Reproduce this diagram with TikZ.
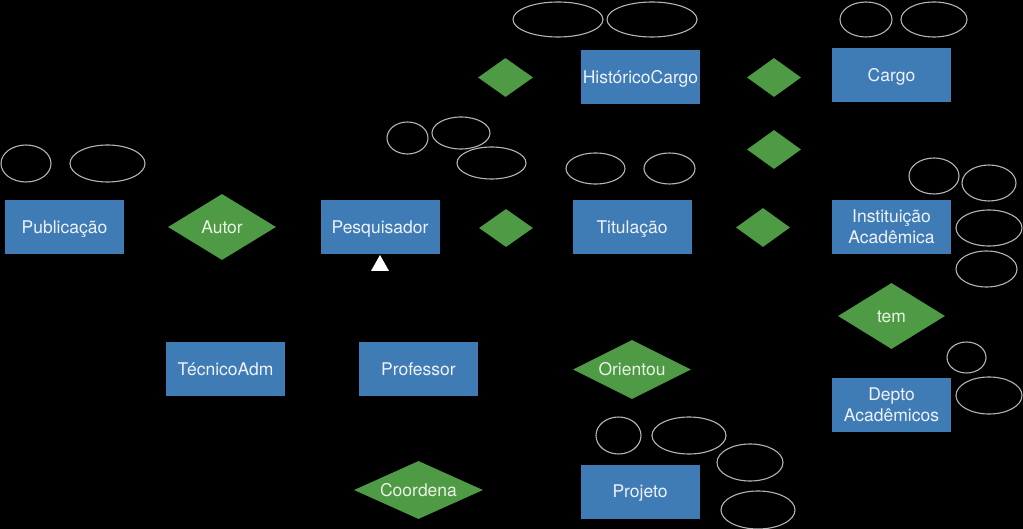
\documentclass[tikz,border=0pt]{standalone}
\usepackage{fontspec}
\setmainfont{TeX Gyre Heros}
\usetikzlibrary{shapes.geometric}
\definecolor{entblue}{HTML}{3F7CB6}
\definecolor{relgreen}{HTML}{4E9A45}
\definecolor{attgray}{HTML}{B4B4B4}
\definecolor{txtwhite}{HTML}{EEF2F8}
\definecolor{txtgreen}{HTML}{E8F4E2}
\tikzset{
  entitybase/.style={rectangle, fill=entblue, draw=none, minimum width=119pt, minimum height=54pt, inner sep=0pt,
    text=txtwhite, align=center, font=\fontsize{17.5}{21}\selectfont},
  entity/.style={entitybase, text height=12.5pt, text depth=0pt},
  entitytwo/.style={entitybase},
  rel/.style={diamond, shape aspect=2, fill=relgreen, draw=none, inner sep=0pt,
    text=txtgreen, text height=12.5pt, text depth=0pt, font=\fontsize{17.5}{21}\selectfont},
  attr/.style={ellipse, draw=attgray, line width=1.1pt, fill=none, inner sep=0pt},
  isa/.style={fill=white, draw=none}
}
\begin{document}
\begin{tikzpicture}[x=1pt,y=-1pt]
\fill[black] (0,0) rectangle (1023,529);
\useasboundingbox (0,0) rectangle (1023,529);

% entities
\node[entity] (pub) at (64.5,227) {Publicação};
\node[entity] (pesq) at (380,227) {Pesquisador};
\node[entity] (tit) at (632,227) {Titulação};
\node[entity] (hist) at (640.5,77) {HistóricoCargo};
\node[entity] (cargo) at (891.5,75) {Cargo};
\node[entitytwo] (inst) at (891.5,227) {Instituição\\Acadêmica};
\node[entitytwo] (depto) at (891.5,405) {Depto\\Acadêmicos};
\node[entity] (tec) at (225.5,369) {TécnicoAdm};
\node[entity] (prof) at (418.5,369) {Professor};
\node[entity] (proj) at (640,491.5) {Projeto};

% relationships
\node[rel, minimum width=108pt, minimum height=66pt] (autor) at (222,227) {Autor};
\node[rel, minimum width=54pt, minimum height=38pt] (rpt) at (506,228) {};
\node[rel, minimum width=55pt, minimum height=39pt] (rph) at (505.5,77.5) {};
\node[rel, minimum width=54pt, minimum height=39pt] (rhc) at (774,77.5) {};
\node[rel, minimum width=54pt, minimum height=39pt] (rmid) at (774,149.5) {};
\node[rel, minimum width=54pt, minimum height=39pt] (rti) at (763,227.5) {};
\node[rel, minimum width=107pt, minimum height=66pt] (tem) at (891.5,316) {tem};
\node[rel, minimum width=118pt, minimum height=59pt] (orient) at (632,369.5) {Orientou};
\node[rel, minimum width=129pt, minimum height=58pt] (coord) at (418.5,490) {Coordena};

% generalization triangle
\coordinate (triA) at (380,255);
\coordinate (triB) at (389,271);
\coordinate (triC) at (371,271);
\fill[isa] (triA) -- (triB) -- (triC) -- cycle;

% attributes
\node[attr, minimum width=50pt, minimum height=37pt] (a1) at (26,163.5) {};
\node[attr, minimum width=75pt, minimum height=37pt] (a2) at (107.5,163.5) {};
\node[attr, minimum width=41pt, minimum height=32pt] (a3) at (407.5,138) {};
\node[attr, minimum width=58pt, minimum height=32pt] (a4) at (461,133) {};
\node[attr, minimum width=69pt, minimum height=32pt] (a5) at (491.5,163) {};
\node[attr, minimum width=90pt, minimum height=35pt] (a6) at (558,19.5) {};
\node[attr, minimum width=90pt, minimum height=35pt] (a7) at (652,19.5) {};
\node[attr, minimum width=52pt, minimum height=35pt] (a8) at (866,19.5) {};
\node[attr, minimum width=66pt, minimum height=35pt] (a9) at (934,19.5) {};
\node[attr, minimum width=59pt, minimum height=31pt] (a10) at (595.5,168.5) {};
\node[attr, minimum width=51pt, minimum height=31pt] (a11) at (669.5,168.5) {};
\node[attr, minimum width=50pt, minimum height=36pt] (a12) at (934,176) {};
\node[attr, minimum width=54pt, minimum height=36pt] (a13) at (989,183) {};
\node[attr, minimum width=66pt, minimum height=36pt] (a14) at (989,228) {};
\node[attr, minimum width=61pt, minimum height=36pt] (a15) at (986.5,269) {};
\node[attr, minimum width=39pt, minimum height=31pt] (a16) at (966.5,357.5) {};
\node[attr, minimum width=66pt, minimum height=37pt] (a17) at (989,395.5) {};
\node[attr, minimum width=45pt, minimum height=37pt] (a18) at (618.5,435.5) {};
\node[attr, minimum width=74pt, minimum height=37pt] (a19) at (689,435.5) {};
\node[attr, minimum width=66pt, minimum height=37pt] (a20) at (750,462.5) {};
\node[attr, minimum width=74pt, minimum height=38pt] (a21) at (758,510) {};
\end{tikzpicture}
\end{document}
